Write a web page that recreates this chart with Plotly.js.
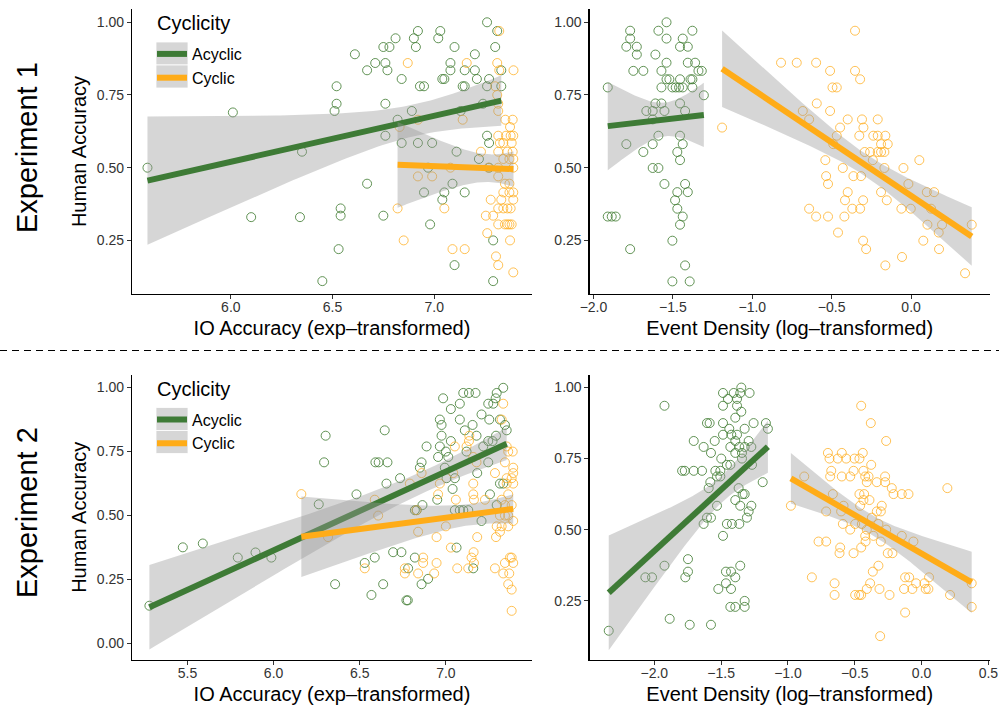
<!DOCTYPE html>
<html>
<head>
<meta charset="utf-8">
<script src="https://cdn.plot.ly/plotly-3.0.1.min.js"></script>
<style>html,body{margin:0;padding:0;background:#fff;}#chart{width:999px;height:707px;}</style>
</head>
<body>
<div id="chart"></div>
<script>
// ---------- DATA ----------
const groupNames = ["Acyclic", "Cyclic"];
const legendTitle = "Cyclicity";
const panelExperiments = ["Experiment 1", "Experiment 2"];

// Experiment 1 – IO accuracy (exp-transformed)
const e1IoAcyclicX = [5.59,6.01,6.10,6.34,6.35,6.45,7.26,6.92,7.03,6.81,6.90,7.02,7.31,6.75,6.78,6.91,7.10,7.30,6.61,7.20,6.71,6.76,7.08,6.67,6.77,7.08,7.15,7.20,7.33,6.84,7.04,7.05,7.21,7.27,6.52,6.93,6.95,7.14,7.15,7.26,7.33,6.52,6.51,6.76,6.89,7.24,7.13,6.82,6.76,6.84,6.92,6.99,7.26,7.27,7.11,7.22,6.97,7.27,6.67,7.09,6.95,7.05,7.15,7.04,6.54,6.54,6.75,6.98,6.53,7.29,7.10,7.29];
const e1IoAcyclicY = [0.50,0.69,0.33,0.33,0.555,0.11,1.0,0.97,0.97,0.945,0.945,0.945,0.97,0.915,0.915,0.915,0.915,0.915,0.89,0.89,0.86,0.86,0.86,0.835,0.835,0.835,0.835,0.835,0.835,0.805,0.805,0.805,0.805,0.805,0.78,0.78,0.78,0.78,0.78,0.78,0.78,0.72,0.695,0.72,0.695,0.72,0.695,0.665,0.61,0.585,0.585,0.585,0.61,0.585,0.555,0.53,0.50,0.50,0.445,0.445,0.415,0.415,0.415,0.39,0.36,0.335,0.335,0.305,0.22,0.25,0.165,0.11];
const e1IoCyclicX = [6.82,6.85,6.83,6.87,6.92,6.92,6.99,7.05,7.08,7.09,7.15,7.14,7.16,7.23,7.32,7.31,7.39,7.32,7.30,7.31,7.315,7.315,7.35,7.386,7.373,7.315,7.353,7.376,7.389,7.323,7.34,7.381,7.36,7.315,7.386,7.34,7.37,7.389,7.266,7.315,7.389,7.315,7.348,7.37,7.34,7.37,7.389,7.278,7.33,7.389,7.315,7.34,7.36,7.376,7.254,7.29,7.315,7.348,7.36,7.37,7.381,7.261,7.373,7.304,7.315,7.389];
const e1IoCyclicY = [0.36,0.25,0.64,0.86,0.665,0.47,0.47,0.36,0.50,0.22,0.22,0.665,0.86,0.555,0.97,0.86,0.835,0.835,0.78,0.75,0.72,0.695,0.665,0.665,0.64,0.61,0.61,0.61,0.61,0.585,0.585,0.585,0.555,0.555,0.555,0.53,0.53,0.53,0.50,0.50,0.50,0.47,0.445,0.445,0.415,0.415,0.415,0.39,0.39,0.39,0.36,0.36,0.36,0.36,0.335,0.335,0.305,0.305,0.305,0.305,0.305,0.275,0.25,0.195,0.165,0.14];

// Experiment 1 – event density (log-transformed)
const e1DenAcyclicX = [-1.54,-1.769,-1.591,-1.377,-1.769,-1.54,-1.438,-1.793,-1.727,-1.455,-1.406,-1.727,-1.61,-1.54,-1.406,-1.36,-1.749,-1.686,-1.572,-1.339,-1.318,-1.54,-1.522,-1.455,-1.389,-1.377,-1.91,-1.572,-1.503,-1.482,-1.461,-1.438,-1.377,-1.305,-1.61,-1.572,-1.455,-1.667,-1.627,-1.553,-1.423,-1.627,-1.591,-1.455,-1.793,-1.627,-1.438,-1.686,-1.472,-1.455,-1.627,-1.591,-1.553,-1.423,-1.472,-1.406,-1.486,-1.472,-1.438,-1.455,-1.91,-1.885,-1.86,-1.503,-1.769,-1.423,-1.503,-1.394];
const e1DenAcyclicY = [1.0,0.971,0.971,0.971,0.944,0.944,0.944,0.916,0.916,0.916,0.916,0.889,0.889,0.861,0.861,0.861,0.833,0.833,0.833,0.833,0.833,0.804,0.804,0.804,0.804,0.804,0.776,0.776,0.776,0.776,0.776,0.776,0.776,0.749,0.721,0.721,0.721,0.695,0.695,0.695,0.695,0.666,0.61,0.61,0.581,0.581,0.581,0.554,0.554,0.526,0.499,0.499,0.444,0.444,0.416,0.416,0.388,0.359,0.332,0.304,0.332,0.332,0.332,0.249,0.22,0.164,0.109,0.109];
const e1DenCyclicX = [-0.353,-0.819,-0.72,-0.598,-0.51,-0.353,-0.321,-0.495,-0.468,-0.594,-0.682,-0.51,-0.642,-0.399,-0.309,-0.21,-0.447,-0.3,-1.19,-0.468,-0.326,-0.238,-0.21,-0.162,-0.189,-0.147,-0.49,-0.292,-0.258,-0.21,-0.189,-0.168,-0.54,-0.241,0.052,-0.43,-0.168,-0.048,-0.535,-0.363,-0.315,-0.523,-0.017,-0.399,-0.189,0.099,0.145,-0.416,-0.302,-0.153,-0.642,-0.37,-0.321,-0.061,-0.002,0.126,-0.598,-0.523,-0.42,0.103,0.195,0.382,-0.46,0.174,-0.302,0.077,-0.283,0.176,-0.057,-0.162,0.34];
const e1DenCyclicY = [0.971,0.861,0.861,0.861,0.833,0.833,0.804,0.776,0.776,0.721,0.695,0.695,0.666,0.666,0.666,0.666,0.638,0.638,0.638,0.61,0.61,0.61,0.61,0.61,0.581,0.581,0.581,0.554,0.554,0.554,0.554,0.554,0.526,0.526,0.526,0.499,0.499,0.499,0.471,0.471,0.471,0.444,0.444,0.416,0.416,0.416,0.416,0.388,0.388,0.388,0.359,0.359,0.359,0.359,0.359,0.359,0.332,0.332,0.332,0.304,0.304,0.304,0.277,0.277,0.249,0.249,0.22,0.22,0.193,0.164,0.137];

// Experiment 2 – IO accuracy (exp-transformed)
const e2IoAcyclicX = [5.279,5.473,5.589,5.792,5.895,5.987,6.262,6.293,6.302,7.333,7.101,7.134,7.172,7.295,6.984,7.289,7.081,7.246,7.275,7.029,7.207,6.965,7.081,7.252,7.314,6.975,7.155,7.343,6.645,7.11,7.353,6.975,7.178,7.291,7.029,7.246,7.271,6.888,6.965,7.217,7.0,7.12,6.955,7.014,6.591,6.61,6.661,6.859,7.246,6.849,6.994,7.182,6.734,7.004,7.052,6.655,7.314,7.333,7.039,6.481,7.256,6.95,6.864,7.295,6.82,6.831,7.052,7.081,7.101,7.13,7.207,7.062,6.694,6.742,6.587,6.82,6.529,6.781,7.159,6.897,6.357,6.636,6.859,6.568,6.771,6.779];
const e2IoAcyclicY = [0.147,0.375,0.39,0.335,0.355,0.335,0.543,0.707,0.811,0.998,0.978,0.978,0.978,0.978,0.957,0.957,0.936,0.936,0.936,0.915,0.894,0.874,0.874,0.874,0.874,0.853,0.853,0.853,0.832,0.832,0.832,0.811,0.811,0.811,0.79,0.79,0.79,0.769,0.769,0.769,0.749,0.749,0.728,0.728,0.707,0.707,0.707,0.707,0.707,0.686,0.686,0.665,0.645,0.645,0.645,0.624,0.624,0.624,0.603,0.582,0.582,0.561,0.54,0.54,0.52,0.52,0.52,0.52,0.52,0.52,0.478,0.374,0.356,0.356,0.335,0.335,0.314,0.293,0.293,0.252,0.231,0.231,0.231,0.189,0.168,0.168];
const e2IoCyclicX = [6.161,7.333,7.324,7.136,7.134,7.052,7.12,7.353,7.388,7.362,7.159,7.178,7.343,6.859,7.043,7.285,7.391,7.391,7.382,7.353,6.791,6.965,7.159,7.391,7.353,6.587,6.955,7.159,7.362,7.058,7.163,7.227,7.324,7.343,7.382,6.607,6.829,7.314,7.343,7.362,7.391,7.0,7.295,7.324,7.362,6.839,7.314,6.316,6.946,7.182,7.291,7.029,7.161,6.868,7.149,7.372,7.382,6.529,6.762,6.868,6.946,7.066,7.13,7.163,7.285,7.343,7.391,6.762,6.839,6.932,7.333,7.368,7.362,7.382,7.382];
const e2IoCyclicY = [0.583,0.936,0.874,0.811,0.79,0.769,0.769,0.769,0.749,0.749,0.728,0.707,0.707,0.665,0.665,0.665,0.686,0.665,0.645,0.645,0.624,0.624,0.624,0.624,0.624,0.561,0.582,0.582,0.582,0.561,0.561,0.561,0.561,0.54,0.54,0.499,0.52,0.499,0.499,0.499,0.478,0.457,0.457,0.457,0.457,0.436,0.436,0.415,0.415,0.415,0.415,0.374,0.356,0.335,0.335,0.335,0.335,0.293,0.293,0.314,0.314,0.293,0.293,0.314,0.293,0.314,0.314,0.273,0.273,0.273,0.273,0.273,0.231,0.21,0.127];

// Experiment 2 – event density (log-transformed)
const e2DenAcyclicX = [-1.349,-1.486,-1.406,-1.357,-1.287,-1.449,-1.381,-1.924,-1.486,-1.381,-1.349,-1.394,-1.606,-1.586,-1.486,-1.257,-1.165,-1.439,-1.324,-1.15,-1.486,-1.424,-1.381,-1.705,-1.548,-1.394,-1.294,-1.631,-1.431,-1.364,-1.324,-1.274,-1.576,-1.394,-1.344,-1.499,-1.344,-1.457,-1.431,-1.269,-1.792,-1.772,-1.705,-1.643,-1.543,-1.506,-1.531,-1.506,-1.581,-1.189,-1.593,-1.369,-1.324,-1.339,-1.394,-1.531,-1.357,-1.274,-1.294,-1.307,-1.606,-1.576,-1.631,-1.457,-1.419,-1.364,-1.486,-1.748,-1.924,-1.357,-1.748,-1.464,-1.426,-2.067,-2.017,-1.768,-1.394,-1.464,-1.521,-1.426,-1.324,-1.431,-1.394,-1.324,-1.885,-1.735,-1.576,-2.341];
const e2DenAcyclicY = [1.0,0.981,0.981,0.981,0.981,0.96,0.96,0.936,0.936,0.936,0.915,0.894,0.875,0.875,0.875,0.875,0.875,0.855,0.855,0.855,0.834,0.834,0.834,0.812,0.812,0.812,0.812,0.791,0.791,0.791,0.791,0.791,0.77,0.77,0.77,0.75,0.75,0.728,0.728,0.728,0.707,0.707,0.707,0.707,0.707,0.707,0.687,0.687,0.667,0.667,0.646,0.646,0.625,0.625,0.604,0.584,0.584,0.584,0.564,0.542,0.542,0.542,0.52,0.52,0.52,0.52,0.478,0.396,0.373,0.373,0.352,0.352,0.352,0.332,0.332,0.332,0.332,0.311,0.291,0.291,0.249,0.228,0.228,0.228,0.186,0.165,0.165,0.144];
const e2DenCyclicX = [-0.452,-0.38,-0.265,-0.701,-0.597,-0.44,-0.689,-0.627,-0.564,-0.502,-0.465,-0.377,-0.676,-0.509,-0.435,-0.684,-0.597,-0.534,-0.422,-0.397,-0.273,-0.878,-0.41,-0.335,-0.273,-0.223,0.193,-0.21,-0.148,-0.098,-0.664,-0.465,-0.43,-0.435,-0.39,-0.978,-0.584,-0.46,-0.298,-0.714,-0.602,-0.335,-0.305,-0.372,-0.589,-0.497,-0.447,-0.323,-0.534,-0.41,-0.265,-0.422,-0.36,-0.148,-0.771,-0.714,-0.419,-0.305,-0.061,-0.609,-0.452,-0.614,-0.509,-0.253,-0.218,-0.323,-0.365,-0.821,-0.123,-0.093,0.056,-0.651,-0.385,-0.041,0.021,0.375,-0.41,-0.315,-0.131,-0.069,0.031,0.051,-0.651,-0.497,-0.467,-0.452,-0.24,0.213,0.375,-0.123,-0.31];
const e2DenCyclicY = [0.936,0.875,0.812,0.77,0.77,0.77,0.75,0.75,0.75,0.75,0.75,0.728,0.707,0.707,0.707,0.687,0.687,0.687,0.687,0.687,0.687,0.687,0.667,0.667,0.667,0.646,0.646,0.625,0.625,0.625,0.625,0.625,0.625,0.604,0.604,0.584,0.584,0.584,0.584,0.564,0.564,0.564,0.564,0.542,0.52,0.52,0.52,0.52,0.5,0.5,0.5,0.478,0.478,0.478,0.458,0.458,0.458,0.458,0.458,0.437,0.437,0.417,0.417,0.417,0.417,0.373,0.352,0.332,0.332,0.332,0.332,0.311,0.311,0.311,0.311,0.311,0.291,0.291,0.291,0.291,0.291,0.291,0.27,0.27,0.27,0.27,0.27,0.27,0.228,0.208,0.125];

// tick values
const ioTicksTop = [6.0, 6.5, 7.0];
const ioTicksBottom = [5.5, 6.0, 6.5, 7.0];
const denTicksTop = [-2.0, -1.5, -1.0, -0.5, 0.0];
const denTicksBottom = [-2.0, -1.5, -1.0, -0.5, 0.0, 0.5];
const accTicksTop = [0.25, 0.50, 0.75, 1.00];
const accTicksE2Io = [0.00, 0.25, 0.50, 0.75, 1.00];

// ---------- STYLE ----------
const FONT = "Liberation Sans, Arial, Helvetica, sans-serif";
const GREEN_PT = "rgba(70,128,56,0.85)";
const ORANGE_PT = "rgba(255,172,28,0.75)";
const GREEN_LN = "#3E7B36";
const ORANGE_LN = "#FFAC18";
const RIBBON = "rgba(153,153,153,0.4)";
const W = 999, H = 707;

// ---------- linear fit with 95% CI (like geom_smooth(method = "lm")) ----------
function tq(df) {
  const z = 1.959964;
  return z + (z**3 + z) / (4 * df) + (5*z**5 + 16*z**3 + 3*z) / (96 * df * df)
           + (3*z**7 + 19*z**5 + 17*z**3 - 15*z) / (384 * df**3);
}
function lmFit(xs, ys) {
  const n = xs.length;
  const mx = xs.reduce((a, b) => a + b, 0) / n;
  const my = ys.reduce((a, b) => a + b, 0) / n;
  let sxx = 0, sxy = 0;
  for (let i = 0; i < n; i++) { sxx += (xs[i]-mx)**2; sxy += (xs[i]-mx)*(ys[i]-my); }
  const b = sxy / sxx, a = my - b * mx;
  let sse = 0;
  for (let i = 0; i < n; i++) sse += (ys[i] - a - b*xs[i])**2;
  const s = Math.sqrt(sse / (n - 2));
  const t = tq(n - 2);
  const lo = Math.min(...xs), hi = Math.max(...xs);
  const gx = [], gy = [], up = [], dn = [];
  for (let k = 0; k <= 80; k++) {
    const x = lo + (hi - lo) * k / 80;
    const y = a + b * x;
    const se = s * Math.sqrt(1/n + (x-mx)**2 / sxx);
    gx.push(x); gy.push(y); up.push(y + t*se); dn.push(y - t*se);
  }
  return {gx, gy, up, dn};
}

const traces = [];
function panel(xa, ya, gx, gy, ox, oy, legendId) {
  traces.push({type:"scatter", mode:"markers", x: gx, y: gy, xaxis: xa, yaxis: ya, showlegend:false, hoverinfo:"skip",
    marker:{symbol:"circle-open", size:9, color:GREEN_PT, line:{width:1}}});
  traces.push({type:"scatter", mode:"markers", x: ox, y: oy, xaxis: xa, yaxis: ya, showlegend:false, hoverinfo:"skip",
    marker:{symbol:"circle-open", size:9, color:ORANGE_PT, line:{width:1}}});
  const groups = [[gx, gy, GREEN_LN, groupNames[0]], [ox, oy, ORANGE_LN, groupNames[1]]];
  groups.forEach(([xs, ys, col, name]) => {
    const f = lmFit(xs, ys);
    traces.push({type:"scatter", mode:"lines", x: f.gx.concat(f.gx.slice().reverse()), y: f.up.concat(f.dn.slice().reverse()),
      xaxis: xa, yaxis: ya, fill:"toself", fillcolor:RIBBON, line:{width:0, color:"rgba(0,0,0,0)"}, showlegend:false, hoverinfo:"skip"});
    const tr = {type:"scatter", mode:"lines", x: f.gx, y: f.gy, xaxis: xa, yaxis: ya, name: name,
      line:{color: col, width: 6}, hoverinfo:"skip", showlegend: !!legendId};
    if (legendId) tr.legend = legendId;
    traces.push(tr);
  });
}
panel("x",  "y",  e1IoAcyclicX,  e1IoAcyclicY,  e1IoCyclicX,  e1IoCyclicY,  "legend");
panel("x2", "y2", e1DenAcyclicX, e1DenAcyclicY, e1DenCyclicX, e1DenCyclicY, null);
panel("x3", "y3", e2IoAcyclicX,  e2IoAcyclicY,  e2IoCyclicX,  e2IoCyclicY,  "legend2");
panel("x4", "y4", e2DenAcyclicX, e2DenAcyclicY, e2DenCyclicX, e2DenCyclicY, null);

// ---------- LAYOUT ----------
const colL = [132/W, 532/W], colR = [589.5/W, 990/W];
const rowT = [1 - 294/H, 1 - 9/H], rowB = [1 - 660/H, 1 - 374.5/H];
function xax(domain, range, ticks, fmt, title, anchor) {
  return {domain, range, anchor, tickvals: ticks, tickformat: fmt, showline:true, linecolor:"#000", linewidth:1.1,
    ticks:"outside", ticklen:4, tickwidth:1, tickcolor:"#333", showgrid:false, zeroline:false, automargin:false,
    ticklabelstandoff:-4,
    tickfont:{family:FONT, size:14, color:"#333"},
    title:{text:title, font:{family:FONT, size:20, color:"#000"}, standoff:7}};
}
function yax(domain, range, ticks, title, anchor) {
  return {domain, range, anchor, tickvals: ticks, tickformat: ".2f", showline:true, linecolor:"#000", linewidth:1.1,
    ticks:"outside", ticklen:4, tickwidth:1, tickcolor:"#333", showgrid:false, zeroline:false, automargin:false,
    tickfont:{family:FONT, size:14, color:"#333"},
    title:{text:title, font:{family:FONT, size:20, color:"#000"}, standoff:4}};
}
const legendCommon = {xanchor:"left", yanchor:"top", bgcolor:"rgba(0,0,0,0)", borderwidth:0,
  font:{family:FONT, size:16, color:"#000"}, itemwidth:30, tracegroupgap:0};

function keyBox(top) {
  return {type:"rect", xref:"paper", yref:"paper", x0:156/W, x1:188/W, y0:1-(top+23)/H, y1:1-top/H,
    fillcolor:"#d6d6d6", line:{width:0.8, color:"#fff"}, layer:"above"};
}

const layout = {
  width: W, height: H, margin:{l:0, r:0, t:0, b:0},
  paper_bgcolor:"#fff", plot_bgcolor:"#fff", font:{family:FONT},
  xaxis:  xax(colL, [5.514, 7.481], ioTicksTop, ".1f", "IO Accuracy (exp–transformed)", "y"),
  yaxis:  yax(rowT, [0.0657, 1.0457], accTicksTop, "Human Accuracy", "x"),
  xaxis2: xax(colR, [-2.025, 0.497], denTicksTop, ".1f", "Event Density (log–transformed)", "y2"),
  yaxis2: yax(rowT, [0.0657, 1.0457], accTicksTop, "", "x2"),
  xaxis3: xax(colL, [5.178, 7.50], ioTicksBottom, ".1f", "IO Accuracy (exp–transformed)", "y3"),
  yaxis3: yax(rowB, [-0.065, 1.05], accTicksE2Io, "Human Accuracy", "x3"),
  xaxis4: xax(colR, [-2.485, 0.512], denTicksBottom, ".1f", "Event Density (log–transformed)", "y4"),
  yaxis4: yax(rowB, [0.041, 1.046], accTicksTop, "", "x4"),
  legend:  Object.assign({x: 152/W, y: 1 - 37/H}, legendCommon),
  legend2: Object.assign({x: 152/W, y: 1 - 402.5/H}, legendCommon),
  shapes: [
    {type:"line", xref:"paper", yref:"paper", x0:0, x1:1, y0:1-350.5/H, y1:1-350.5/H, line:{color:"#000", width:1, dash:"7px,5px"}},
    keyBox(42), keyBox(65), keyBox(407.5), keyBox(430.5)
  ],
  annotations: [
    {text: panelExperiments[0], xref:"paper", yref:"paper", x: 27/W, y: 1 - 148/H, textangle:-90, showarrow:false,
     xanchor:"center", yanchor:"middle", font:{family:FONT, size:29, color:"#000"}},
    {text: panelExperiments[1], xref:"paper", yref:"paper", x: 27/W, y: 1 - 513/H, textangle:-90, showarrow:false,
     xanchor:"center", yanchor:"middle", font:{family:FONT, size:29, color:"#000"}},
    {text: legendTitle, xref:"paper", yref:"paper", x: 155/W, y: 1 - 23/H, showarrow:false,
     xanchor:"left", yanchor:"middle", font:{family:FONT, size:20, color:"#000"}},
    {text: legendTitle, xref:"paper", yref:"paper", x: 155/W, y: 1 - 388.5/H, showarrow:false,
     xanchor:"left", yanchor:"middle", font:{family:FONT, size:20, color:"#000"}}
  ]
};
Plotly.newPlot("chart", traces, layout, {staticPlot:true, displayModeBar:false});
</script>
</body>
</html>
